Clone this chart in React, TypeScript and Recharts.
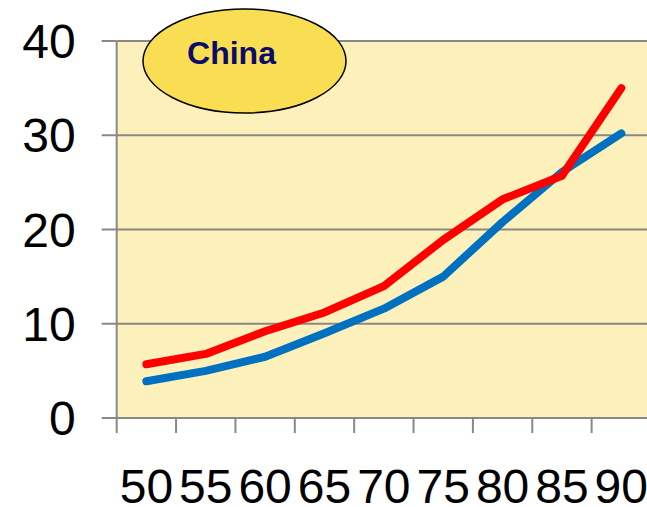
import React from 'react';
import { LineChart, Line, XAxis, YAxis, CartesianGrid, Customized } from 'recharts';

// Year labels along the bottom (19xx)
const years = ['50', '55', '60', '65', '70', '75', '80', '85', '90'];
// Blue series values
const blueSeries = [3.9, 5.0, 6.5, 9.0, 11.6, 15.0, 20.8, 26.1, 30.2];
// Red series values
const redSeries = [5.7, 6.8, 9.2, 11.2, 14.0, 18.9, 23.2, 25.7, 35.0];
// Value axis ticks
const yTicks = [0, 10, 20, 30, 40];

const title = 'China';

const data = years.map((year, i) => ({
  year,
  blue: blueSeries[i],
  red: redSeries[i],
}));

const FONT = 'Arial, "Liberation Sans", sans-serif';
const GREY = '#888888';
const TICK_LEN = 15;
const LABEL_GAP = 51;

// Category tick: a short mark at the left edge of the band plus the centred label
const YearTick = (props: any) => {
  const { x, y, payload } = props;
  const half = payload && payload.offset ? payload.offset : 0;
  return (
    <g>
      <line x1={x - half} x2={x - half} y1={y} y2={y + TICK_LEN} stroke={GREY} strokeWidth={2} />
      <text
        x={x}
        y={y + LABEL_GAP}
        dy="0.71em"
        textAnchor="middle"
        fontFamily={FONT}
        fontSize={48}
        fill="#000"
      >
        {payload.value}
      </text>
    </g>
  );
};

const TitleBadge = () => (
  <g>
    <ellipse cx={244.5} cy={61} rx={101.5} ry={52} fill="#F9DD52" stroke="#000" strokeWidth={1.5} />
    <text x={231.5} y={64} textAnchor="middle" fontFamily={FONT} fontWeight="bold" fontSize={32} fill="#0B0B6B">
      {title}
    </text>
  </g>
);

export default function App() {
  return (
    <div style={{ position: 'absolute', left: 0, top: 0, width: 647, height: 507, overflow: 'hidden', background: '#fff' }}>
      <LineChart
        width={647}
        height={507}
        data={data}
        margin={{ top: 41, right: -4, bottom: 0, left: 0 }}
      >
        <CartesianGrid vertical={false} horizontal stroke={GREY} strokeWidth={2} fill="#FCF1BA" fillOpacity={1} />
        <XAxis
          dataKey="year"
          type="category"
          scale="band"
          height={89}
          interval={0}
          axisLine={{ stroke: GREY, strokeWidth: 2 }}
          tickLine={false}
          tickSize={0}
          tickMargin={0}
          tick={YearTick}
        />
        <YAxis
          width={116.7}
          domain={[0, 40]}
          ticks={yTicks}
          interval={0}
          tickSize={15}
          tickMargin={26}
          axisLine={{ stroke: GREY, strokeWidth: 2 }}
          tickLine={{ stroke: GREY, strokeWidth: 2 }}
          tick={{ fill: '#000', fontSize: 48, fontFamily: FONT }}
        />
        <Line
          type="linear"
          dataKey="blue"
          stroke="#0070C0"
          strokeWidth={8}
          strokeLinecap="round"
          strokeLinejoin="round"
          dot={false}
          activeDot={false}
          isAnimationActive={false}
        />
        <Line
          type="linear"
          dataKey="red"
          stroke="#FF0000"
          strokeWidth={8}
          strokeLinecap="round"
          strokeLinejoin="round"
          dot={false}
          activeDot={false}
          isAnimationActive={false}
        />
        <Customized component={TitleBadge} />
      </LineChart>
    </div>
  );
}
